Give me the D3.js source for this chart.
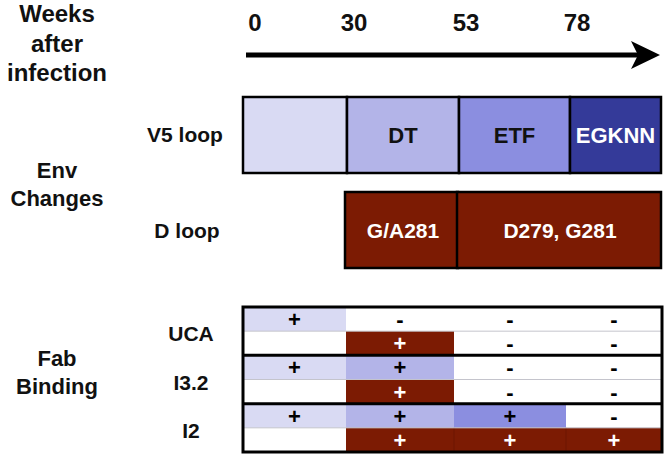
<!DOCTYPE html>
<html>
<head>
<meta charset="utf-8">
<script src="https://cdn.jsdelivr.net/npm/d3@7"></script>
<style>
  html, body { margin: 0; padding: 0; background: #fff; }
  svg { display: block; font-family: "Liberation Sans", Arial, sans-serif; font-weight: bold; }
</style>
</head>
<body>
<svg id="chart" width="667" height="456"></svg>
<script>
// ---------- data ----------
const weeks = ["0", "30", "53", "78"];
const v5Labels = ["", "DT", "ETF", "EGKNN"];
const dLoopLabels = ["G/A281", "D279, G281"];
const dLoopStart = [1, 2];
const dLoopEnd = [2, 4];
const antibodies = ["UCA", "I3.2", "I2"];
const v5Binding = [
  ["+", "-", "-", "-"],
  ["+", "+", "-", "-"],
  ["+", "+", "+", "-"]
];
const dBinding = [
  ["", "+", "-", "-"],
  ["", "+", "-", "-"],
  ["", "+", "+", "+"]
];
const headerLines = [["Weeks", "after", "infection"], ["Env", "Changes"], ["Fab", "Binding"]];

// ---------- styles / scales ----------
const v5Color = d3.scaleOrdinal().domain([0, 1, 2, 3]).range(["#d9daf3", "#b3b4e8", "#8b8ee0", "#343a99"]);
const v5TextColor = d3.scaleOrdinal().domain([0, 1, 2, 3]).range(["#000", "#111", "#111", "#fff"]);
const dColor = "#7c1b03";

const xV = d3.scaleLinear().domain([0, 1, 2, 3, 4]).range([243, 347, 459, 570, 661]);
const xT = d3.scaleLinear().domain([0, 1, 2, 3, 4]).range([243, 346, 454, 566, 662]);
const xTick = d3.scaleOrdinal().domain(weeks).range([255, 354, 466, 577]);
const yT = d3.scaleLinear().domain([0, 6]).range([307, 452]);

const svg = d3.select("#chart");

// ---------- left headers ----------
const hdrY = [[22, 52, 81], [178, 206], [366, 394]];
const hdrSize = [24, 22, 22];
headerLines.forEach((lines, gi) => {
  lines.forEach((t, li) => {
    svg.append("text").attr("x", 57).attr("y", hdrY[gi][li])
      .attr("text-anchor", "middle").attr("font-size", hdrSize[gi]).attr("fill", "#111").text(t);
  });
});

// ---------- time axis ----------
svg.selectAll("text.tick").data(weeks).join("text")
  .attr("class", "tick")
  .attr("x", d => xTick(d)).attr("y", 31)
  .attr("text-anchor", "middle").attr("font-size", 24).attr("fill", "#111")
  .text(d => d);

const axY = 55;
svg.append("line").attr("x1", 246).attr("x2", xV(4) - 22).attr("y1", axY).attr("y2", axY)
  .attr("stroke", "#000").attr("stroke-width", 5);
const tip = xV(4) - 1;
svg.append("path")
  .attr("d", `M${tip},${axY} L${tip - 29},${axY - 14} L${tip - 22},${axY} L${tip - 29},${axY + 14} Z`)
  .attr("fill", "#000");

// ---------- V5 loop ----------
const v5Top = 97, v5H = 76;
svg.append("text").attr("x", 185).attr("y", v5Top + v5H / 2 + 7)
  .attr("text-anchor", "middle").attr("font-size", 21).attr("fill", "#111").text("V5 loop");
svg.selectAll("rect.v5").data(v5Labels).join("rect")
  .attr("class", "v5")
  .attr("x", (d, i) => xV(i)).attr("y", v5Top)
  .attr("width", (d, i) => xV(i + 1) - xV(i)).attr("height", v5H)
  .attr("fill", (d, i) => v5Color(i)).attr("stroke", "#000").attr("stroke-width", 2.5);
svg.selectAll("text.v5").data(v5Labels).join("text")
  .attr("class", "v5")
  .attr("x", (d, i) => (xV(i) + xV(i + 1)) / 2).attr("y", v5Top + v5H / 2 + 8)
  .attr("text-anchor", "middle").attr("font-size", 22)
  .attr("fill", (d, i) => v5TextColor(i)).text(d => d);

// ---------- D loop ----------
const dTop = 192, dH = 76;
svg.append("text").attr("x", 187).attr("y", dTop + dH / 2 + 8)
  .attr("text-anchor", "middle").attr("font-size", 21).attr("fill", "#111").text("D loop");
svg.selectAll("rect.dl").data(dLoopLabels).join("rect")
  .attr("class", "dl")
  .attr("x", (d, i) => xV(dLoopStart[i]) - 2).attr("y", dTop)
  .attr("width", (d, i) => xV(dLoopEnd[i]) - xV(dLoopStart[i]) + (i === 0 ? 1 : 2)).attr("height", dH)
  .attr("fill", dColor).attr("stroke", "#000").attr("stroke-width", 2.5);
svg.selectAll("text.dl").data(dLoopLabels).join("text")
  .attr("class", "dl")
  .attr("x", (d, i) => (xV(dLoopStart[i]) + xV(dLoopEnd[i])) / 2).attr("y", dTop + dH / 2 + 8)
  .attr("text-anchor", "middle").attr("font-size", 21).attr("fill", "#fff").text(d => d);

// ---------- Fab binding table ----------
const rowH = yT(1) - yT(0);
antibodies.forEach((ab, ai) => {
  const rV = ai * 2, rD = ai * 2 + 1;
  v5Binding[ai].forEach((v, ci) => {
    svg.append("rect").attr("x", xT(ci)).attr("y", yT(rV))
      .attr("width", xT(ci + 1) - xT(ci)).attr("height", rowH)
      .attr("fill", v === "+" ? v5Color(ci) : "#fff");
  });
  dBinding[ai].forEach((v, ci) => {
    svg.append("rect").attr("x", xT(ci)).attr("y", yT(rD))
      .attr("width", xT(ci + 1) - xT(ci)).attr("height", rowH)
      .attr("fill", v === "+" ? dColor : "#fff");
    if (v === "+" && ci > 0 && dBinding[ai][ci - 1] === "+") {
      svg.append("line").attr("x1", xT(ci)).attr("x2", xT(ci)).attr("y1", yT(rD)).attr("y2", yT(rD + 1))
        .attr("stroke", "#6c1602").attr("stroke-width", 1);
    }
  });
  svg.append("line").attr("x1", xT(0)).attr("x2", xT(4)).attr("y1", yT(rD)).attr("y2", yT(rD))
    .attr("stroke", "#c4c4cc").attr("stroke-width", 1);
  v5Binding[ai].forEach((v, ci) => {
    svg.append("text").attr("x", (xT(ci) + xT(ci + 1)) / 2).attr("y", yT(rV) + rowH / 2 + 8)
      .attr("text-anchor", "middle").attr("font-size", 22).attr("fill", "#000").text(v);
  });
  dBinding[ai].forEach((v, ci) => {
    svg.append("text").attr("x", (xT(ci) + xT(ci + 1)) / 2).attr("y", yT(rD) + rowH / 2 + 8)
      .attr("text-anchor", "middle").attr("font-size", 22)
      .attr("fill", v === "+" ? "#fff" : "#000").text(v);
  });
  svg.append("text").attr("x", 191).attr("y", yT(rD) + 10)
    .attr("text-anchor", "middle").attr("font-size", 21).attr("fill", "#111").text(ab);
  if (ai > 0) {
    svg.append("line").attr("x1", xT(0)).attr("x2", xT(4)).attr("y1", yT(rV)).attr("y2", yT(rV))
      .attr("stroke", "#000").attr("stroke-width", 3);
  }
});
svg.append("rect").attr("x", xT(0)).attr("y", yT(0))
  .attr("width", xT(4) - xT(0)).attr("height", yT(6) - yT(0))
  .attr("fill", "none").attr("stroke", "#000").attr("stroke-width", 3);
</script>
</body>
</html>
